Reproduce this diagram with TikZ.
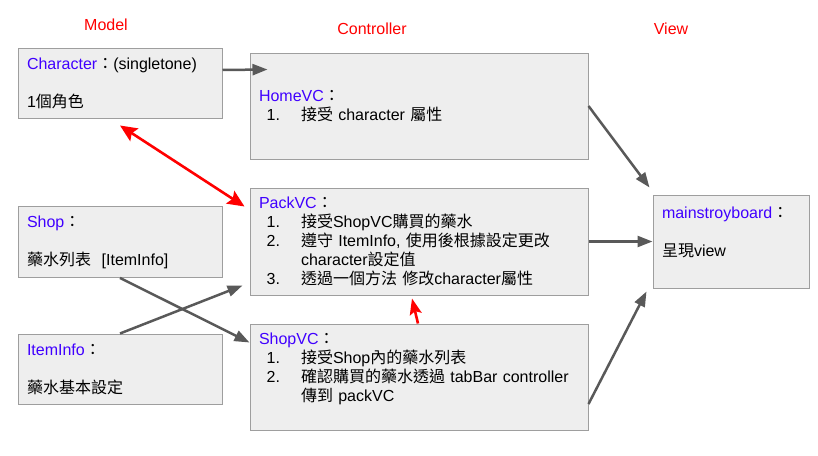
\documentclass[tikz,border=0pt]{standalone}
\usepackage{fontspec}
\setmainfont{Liberation Sans}
\newfontfamily\cjk{Noto Sans CJK TC}
\usepackage{tikz}
\usetikzlibrary{arrows.meta}
\definecolor{boxfill}{HTML}{EEEEEE}
\definecolor{boxline}{HTML}{9E9E9E}
\definecolor{linkgray}{HTML}{595959}
\definecolor{tagblue}{RGB}{64,0,255}
\newcommand{\zh}[1]{{\cjk #1}}
\newcommand{\ttl}[1]{\textcolor{tagblue}{#1}}
\newcommand{\itm}[1]{\hspace*{7.7pt}\makebox[34.3pt][l]{#1}}
\tikzset{
	box/.style={draw=boxline,fill=boxfill,line width=1pt,rectangle,align=left,inner sep=9pt,
		font=\fontsize{16}{19}\selectfont},
	layer/.style={text=red,font=\fontsize{16}{19}\selectfont},
	link/.style={draw=linkgray,line width=2.5pt,-{Triangle[length=15pt,width=11pt]}},
	redlink/.style={draw=red,line width=2.6pt,{Stealth[length=17pt,width=15pt,inset=3pt]}-{Stealth[length=17pt,width=15pt,inset=3pt]}},
	uplink/.style={draw=red,line width=2.6pt,-{Stealth[length=16pt,width=12pt,inset=3pt]}}
}

\begin{document}
\begin{tikzpicture}[x=1pt,y=-1pt]
	\useasboundingbox (0,0) rectangle (818,455);
	\node[layer] (model) at (106,25) {Model};
	\node[layer] (ctrl) at (372,29) {Controller};
	\node[layer] (view) at (671,29) {View};
	% model
	\node[box,minimum width=204,minimum height=70,text width=186pt] (char) at (120,83)
		{\ttl{Character}\zh{：}(singletone)\\[19pt]1\zh{個角色}};
	\node[box,minimum width=204,minimum height=70,text width=186pt] (shop) at (120,242)
		{\ttl{Shop}\zh{：}\\[19pt]\zh{藥水列表}\ \ [ItemInfo]};
	\node[box,minimum width=204,minimum height=70,text width=186pt] (item) at (120,369)
		{\ttl{ItemInfo}\zh{：}\\[19pt]\zh{藥水基本設定}};
	% controller
	\node[box,minimum width=338,minimum height=106,text width=320pt] (home) at (419,106)
		{\ttl{HomeVC}\zh{：}\\
		\itm{1.}\zh{接受} character \zh{屬性}};
	\node[box,minimum width=338,minimum height=107,text width=320pt] (pack) at (419,241.5)
		{\ttl{PackVC}\zh{：}\\
		\itm{1.}\zh{接受}ShopVC\zh{購買的藥水}\\
		\itm{2.}\zh{遵守} ItemInfo, \zh{使用後根據設定更改}\\
		\hspace*{42pt}character\zh{設定值}\\
		\itm{3.}\zh{透過一個方法 修改}character\zh{屬性}};
	\node[box,minimum width=338,minimum height=106,text width=320pt] (shopvc) at (419,377)
		{\ttl{ShopVC}\zh{：}\\
		\itm{1.}\zh{接受}Shop\zh{內的藥水列表}\\
		\itm{2.}\zh{確認購買的藥水透過} tabBar controller\\
		\hspace*{42pt}\zh{傳到} packVC\\ \mbox{}};
	% view
	\node[box,minimum width=156,minimum height=93,text width=138pt] (main) at (731,241.5)
		{\ttl{mainstroyboard}\zh{：}\\[19pt]\zh{呈現}view\\ \mbox{}};
	% links
	\draw[link] ([yshift=13pt]char.east) -- ([xshift=18pt,yshift=-17pt]home.north west);
	\draw[link] (home.east) -- ([xshift=-3pt,yshift=7pt]main.north west);
	\draw[link] (pack.east) -- (main.west);
	\draw[link] ([yshift=-27pt]shopvc.east) -- ([xshift=-6pt,yshift=-3pt]main.south west);
	\draw[link] (shop.south) -- ([yshift=-19pt]shopvc.north west);
	\draw[link] (item.north) -- ([xshift=-7pt,yshift=10pt]pack.south west);
	\draw[redlink] ([yshift=-7pt]char.south) -- ([xshift=-5pt,yshift=-19pt]pack.north west);
	\draw[uplink] ([xshift=-1pt]shopvc.north) -- ([xshift=-7pt,yshift=-3pt]pack.south);
\end{tikzpicture}
\end{document}
